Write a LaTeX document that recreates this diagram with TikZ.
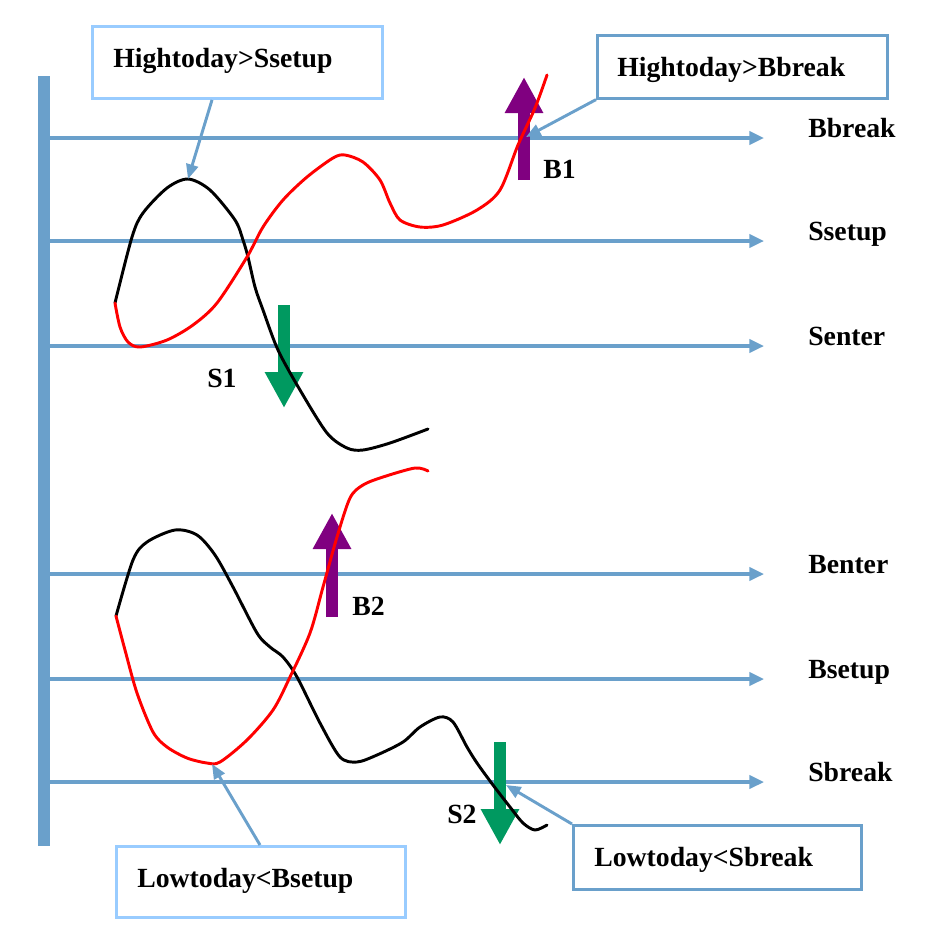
\documentclass[tikz,border=0pt]{standalone}
\usepackage{fontspec}
\setmainfont{Liberation Serif}
\usetikzlibrary{arrows.meta}
\definecolor{steel}{RGB}{106,160,203}
\definecolor{lightb}{RGB}{153,204,255}
\definecolor{sgreen}{RGB}{0,153,96}
\definecolor{bpurple}{RGB}{128,0,128}
\begin{document}
\begin{tikzpicture}[x=0.75pt,y=-0.75pt,
  lvl/.style={draw=steel,line width=2.4pt,-{Triangle[length=11pt,width=10pt]}},
  lbl/.style={anchor=base west,inner sep=0pt,font=\fontsize{20.8}{25}\selectfont\bfseries},
  callbox/.style={draw=#1,line width=2.2pt,fill=white,inner sep=0pt,anchor=north west},
  callarrow/.style={draw=steel,line width=2.2pt,-{Triangle[length=11pt,width=9pt]}},
  fat/.style={draw=#1,line width=9pt,-{Triangle[length=27pt,width=27pt]}},
  curve/.style={line width=2.2pt,line join=round,line cap=round}]
\useasboundingbox (0,0) rectangle (944,936);
% vertical axis
\fill[steel] (38,76) rectangle (50,846);
% level lines
\foreach \n/\y/\t in {bb/138/Bbreak,ss/241/Ssetup,se/346/Senter,be/574/Benter,bs/679/Bsetup,sb/782/Sbreak}{
  \coordinate (\n0) at (50,\y);
  \coordinate (\n1) at (764,\y);
  \draw[lvl] (\n0) -- (\n1);
  \node[lbl] (\n L) at (808,\y-1) {\t};
}
% fat arrows
\coordinate (s1a) at (284,305); \coordinate (s1b) at (284,408);
\coordinate (s2a) at (500,742); \coordinate (s2b) at (500,845);
\coordinate (b1a) at (524,180); \coordinate (b1b) at (524,77);
\coordinate (b2a) at (332,617); \coordinate (b2b) at (332,513);
\draw[fat=sgreen] (s1a) -- (s1b);
\draw[fat=sgreen] (s2a) -- (s2b);
\draw[fat=bpurple] (b1a) -- (b1b);
\draw[fat=bpurple] (b2a) -- (b2b);
\node[lbl] (S1) at (207,387) {S1};
\node[lbl] (S2) at (447,823) {S2};
\node[lbl] (B1) at (543,178) {B1};
\node[lbl] (B2) at (352,615) {B2};
% top curves
\draw[curve,black] plot[smooth,tension=0.5] coordinates {(115,303) (132,237) (143,213) (167,188) (188,179) (210,190) (235,220) (243,240) (248,257) (255,287) (263,310) (278,350) (300,390) (327,433) (347,448) (363,450) (390,443) (428,429)};
\draw[curve,red] plot[smooth,tension=0.5] coordinates {(115,303) (120,327) (128,342) (140,347) (167,340) (193,325) (217,303) (247,257) (263,227) (283,200) (307,177) (333,158) (345,155) (363,162) (380,180) (390,203) (400,220) (420,227) (443,225) (477,210) (500,190) (518,145) (535,108) (547,75)};
% bottom curves
\draw[curve,black] plot[smooth,tension=0.5] coordinates {(116,616) (133,560) (147,542) (175,530) (197,535) (215,555) (233,587) (257,633) (270,647) (283,657) (297,677) (320,723) (340,757) (357,762) (377,755) (403,742) (420,727) (440,717) (453,722) (467,747) (477,763) (493,785) (510,807) (523,823) (535,830) (547,825)};
\draw[curve,red] plot[smooth,tension=0.5] coordinates {(116,616) (125,650) (137,693) (153,732) (167,747) (187,758) (207,763) (220,762) (247,740) (273,710) (290,677) (310,633) (323,587) (337,537) (350,498) (363,485) (383,477) (415,468) (428,471)};
% callout boxes
\node[callbox=lightb,minimum width=217.5pt,minimum height=54pt] (hs) at (91,25) {};
\node[lbl] (hsT) at (113,67) {Hightoday>Ssetup};
\node[callbox=steel,minimum width=217.5pt,minimum height=47pt] (hb) at (596,34) {};
\node[lbl] (hbT) at (617,76) {Hightoday>Bbreak};
\node[callbox=lightb,minimum width=216.5pt,minimum height=53pt] (lb) at (115,845) {};
\node[lbl] (lbT) at (137,887) {Lowtoday<Bsetup};
\node[callbox=steel,minimum width=216pt,minimum height=48pt] (ls) at (572,824) {};
\node[lbl] (lsT) at (594,866) {Lowtoday<Sbreak};
% callout connectors
\coordinate (tA) at (188,179);
\coordinate (tB) at (526,137);
\coordinate (tC) at (212,764);
\coordinate (tD) at (506,785);
\draw[callarrow] (hs.south west) ++(121,0) -- (tA);
\draw[callarrow] (hb.south west) -- (tB);
\draw[callarrow] (lb.north west) ++(145,0) -- (tC);
\draw[callarrow] (ls.north west) -- (tD);
\end{tikzpicture}
\end{document}
